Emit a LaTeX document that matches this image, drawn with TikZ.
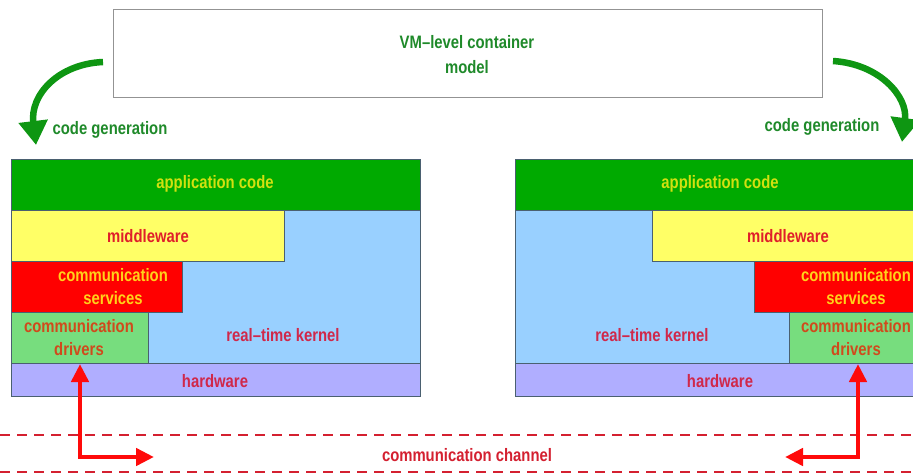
\documentclass[tikz,border=0pt]{standalone}
\usepackage{fontspec}
\setmainfont{Liberation Sans}[FakeStretch=0.825]
\usetikzlibrary{arrows.meta}
\definecolor{gtxt}{HTML}{1F8A2A}
\definecolor{garrow}{HTML}{0E9612}
\definecolor{appg}{HTML}{00AA00}
\definecolor{appt}{HTML}{D2E010}
\definecolor{midy}{HTML}{FFFF66}
\definecolor{redt}{HTML}{E01E2A}
\definecolor{srvr}{HTML}{FF0000}
\definecolor{srvt}{HTML}{FFD21A}
\definecolor{drvg}{HTML}{77DD7E}
\definecolor{drvt}{HTML}{D04A1C}
\definecolor{kerb}{HTML}{99D0FF}
\definecolor{kert}{HTML}{D0284A}
\definecolor{hwl}{HTML}{B0AEFF}
\definecolor{edge}{HTML}{4A6070}
\definecolor{chan}{HTML}{D42030}
\definecolor{arr}{HTML}{FF0A0A}
\tikzset{
  lay/.style={draw=edge, line width=0.7pt, inner sep=0pt, anchor=north west},
  lbl/.style={font=\bfseries\fontsize{18}{23}\selectfont, align=center, inner sep=0pt},
  gen/.style={draw=garrow, line width=6.5pt, -{Triangle[length=24pt,width=28pt]}},
  comm/.style={draw=arr, line width=4.5pt, {Triangle[length=18pt,width=17pt]}-{Triangle[length=18pt,width=17pt]}},
  chanline/.style={draw=chan, line width=2pt, dash pattern=on 10pt off 7pt},
}
\begin{document}
\begin{tikzpicture}[x=1pt,y=-1pt]
\useasboundingbox (0,0) rectangle (913,474);
\clip (0,0) rectangle (913,474);
\fill[white] (0,0) rectangle (913,474);
% top model box
\node[draw=gray!85, line width=1.3pt, anchor=north west, minimum width=709pt, minimum height=88pt, inner sep=0pt] (model) at (113,9) {};
\node[lbl, text=gtxt, font=\bfseries\fontsize{18}{25}\selectfont] (modelt) at (467,55) {VM–level container\\model};
% left stack
\node[lay, fill=kerb, minimum width=409pt, minimum height=153pt] (kL) at (11,210) {};
\node[lay, fill=appg, minimum width=409pt, minimum height=51pt] (aL) at (11,159) {};
\node[lay, fill=midy, minimum width=273pt, minimum height=51pt] (mL) at (11,210) {};
\node[lay, fill=srvr, minimum width=171pt, minimum height=51pt] (sL) at (11,261) {};
\node[lay, fill=drvg, minimum width=137pt, minimum height=51pt] (dL) at (11,312) {};
\node[lay, fill=hwl, minimum width=409pt, minimum height=33pt] (hL) at (11,363) {};
\node[lbl, text=appt] (aLt) at (215,184) {application code};
\node[lbl, text=redt] (mLt) at (148,236) {middleware};
\node[lbl, text=srvt] (sLt) at (113,287) {communication\\services};
\node[lbl, text=drvt] (dLt) at (79,338) {communication\\drivers};
\node[lbl, text=kert] (kLt) at (283,335) {real–time kernel};
\node[lbl, text=kert] (hLt) at (215,381) {hardware};
% right stack
\node[lay, fill=kerb, minimum width=409pt, minimum height=153pt] (kR) at (515,210) {};
\node[lay, fill=appg, minimum width=409pt, minimum height=51pt] (aR) at (515,159) {};
\node[lay, fill=midy, minimum width=272pt, minimum height=51pt] (mR) at (652,210) {};
\node[lay, fill=srvr, minimum width=170pt, minimum height=51pt] (sR) at (754,261) {};
\node[lay, fill=drvg, minimum width=135pt, minimum height=51pt] (dR) at (789,312) {};
\node[lay, fill=hwl, minimum width=409pt, minimum height=33pt] (hR) at (515,363) {};
\node[lbl, text=appt] (aRt) at (720,184) {application code};
\node[lbl, text=redt] (mRt) at (788,236) {middleware};
\node[lbl, text=srvt] (sRt) at (856,287) {communication\\services};
\node[lbl, text=drvt] (dRt) at (856,338) {communication\\drivers};
\node[lbl, text=kert] (kRt) at (652,335) {real–time kernel};
\node[lbl, text=kert] (hRt) at (720,381) {hardware};
% code generation arrows
\coordinate (gLs) at (103,62);
\coordinate (gLe) at (36,145);
\coordinate (gRs) at (833,61);
\coordinate (gRe) at (902,142);
\draw[gen] (gLs) .. controls (58,64) and (30,95) .. (gLe);
\draw[gen] (gRs) .. controls (880,64) and (908,97) .. (gRe);
\node[lbl, text=gtxt] (cgL) at (110,130) {code generation};
\node[lbl, text=gtxt] (cgR) at (822,127) {code generation};
% channel
\coordinate (c1a) at (0,435); \coordinate (c1b) at (913,435);
\coordinate (c2a) at (0,472); \coordinate (c2b) at (913,472);
\draw[chanline] (c1a) -- (c1b);
\draw[chanline] (c2a) -- (c2b);
\node[lbl, text=chan] (chant) at (467,455) {communication channel};
% communication arrows
\coordinate (pL) at (80,364);
\coordinate (qL) at (154,457);
\coordinate (pR) at (858,364);
\coordinate (qR) at (785,457);
\draw[comm] (pL) |- (qL);
\draw[comm] (pR) |- (qR);
\end{tikzpicture}
\end{document}
